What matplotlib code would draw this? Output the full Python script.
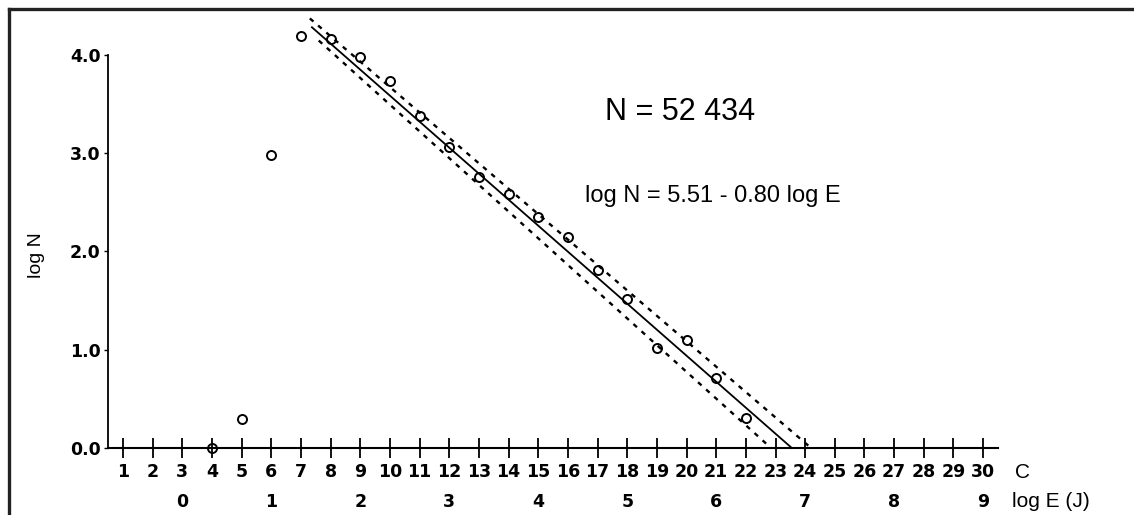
import matplotlib
matplotlib.use("Agg")
import matplotlib.pyplot as plt
from matplotlib.lines import Line2D

# ---- data ----
class_C = [4, 5, 6, 7, 8, 9, 10, 11, 12, 13, 14, 15, 16, 17, 18, 19, 20, 21, 22]
log_N = [0.0, 0.30, 2.98, 4.19, 4.16, 3.98, 3.73, 3.38, 3.06, 2.76, 2.58,
         2.35, 2.15, 1.81, 1.52, 1.02, 1.10, 0.71, 0.31]

fit_C = [7.37, 23.55]
fit_logN = [4.28, 0.0]
upper_C = [7.30, 24.20]
upper_logN = [4.37, 0.0]
lower_C = [7.60, 22.85]
lower_logN = [4.145, 0.0]

C_ticks = list(range(1, 31))
logE_labels = [0, 1, 2, 3, 4, 5, 6, 7, 8, 9]
y_ticks = [0.0, 1.0, 2.0, 3.0, 4.0]

title_text = "N = 52 434"
eq_text = "log N = 5.51 - 0.80 log E"

# ---- figure ----
W, H = 1134, 515
fig = plt.figure(figsize=(W / 100, H / 100), dpi=100)
ax = fig.add_axes([0, 0, 1, 1])
ax.set_xlim(-3.147, 35.087)
ax.set_ylim(-0.6816, 4.5575)
ax.patch.set_alpha(0)

bold_font = {"family": "DejaVu Sans", "weight": "bold"}
sans = "Liberation Sans"

# axes lines
for s in ("top", "right"):
    ax.spines[s].set_visible(False)
ax.spines["left"].set_position(("data", 0.5))
ax.spines["left"].set_bounds(0.0, 4.0)
ax.spines["bottom"].set_position(("data", 0.0))
ax.spines["bottom"].set_bounds(0.5, 30.5)
ax.spines["left"].set_linewidth(1.3)
ax.spines["bottom"].set_linewidth(1.5)

ax.set_xticks(C_ticks)
ax.set_xticklabels([str(c) for c in C_ticks], fontdict=bold_font, fontsize=12.5)
ax.tick_params(axis="x", direction="inout", length=14, width=1.3, pad=4)

ax.set_yticks(y_ticks)
ax.set_yticklabels([f"{v:.1f}" for v in y_ticks], fontdict=bold_font, fontsize=12.5)
ax.tick_params(axis="y", direction="out", length=3, width=1.0, pad=2.5)

# fit line and bands
ax.plot(fit_C, fit_logN, color="black", lw=1.3)
ax.plot(upper_C, upper_logN, color="black", lw=1.7, linestyle=(0, (2.0, 2.6)))
ax.plot(lower_C, lower_logN, color="black", lw=1.7, linestyle=(0, (2.0, 2.6)))

# data points
ax.plot(class_C, log_N, linestyle="none", marker="o", markersize=6.5,
        markerfacecolor="none", markeredgecolor="black", markeredgewidth=1.4,
        zorder=5)

# second row of x labels (log E)
for e in logE_labels:
    ax.text(3 * e + 3, -0.549, str(e), ha="center", va="center",
            fontdict=bold_font, fontsize=12.5)

# axis names
ax.text(31.07, -0.254, "C", ha="left", va="center", family=sans, fontsize=15)
ax.text(30.97, -0.549, "log E (J)", ha="left", va="center", family=sans, fontsize=15)
ax.text(-1.9, 1.963, "log N", ha="center", va="center", rotation=90,
        family=sans, fontsize=14)

# annotations
ax.text(17.25, 3.337, title_text, ha="left", va="baseline", family=sans, fontsize=22)
ax.text(16.58, 2.503, eq_text, ha="left", va="baseline", family=sans, fontsize=17)

# outer frame (left and top)
fx = 9 / W
fy = 1 - 9 / H
fig.add_artist(Line2D([fx, fx], [0, fy], transform=fig.transFigure,
                      color="#222222", lw=2.4, solid_capstyle="projecting"))
fig.add_artist(Line2D([fx, 1], [fy, fy], transform=fig.transFigure,
                      color="#222222", lw=2.4, solid_capstyle="projecting"))

fig.savefig("out.png", dpi=100, facecolor="white")
